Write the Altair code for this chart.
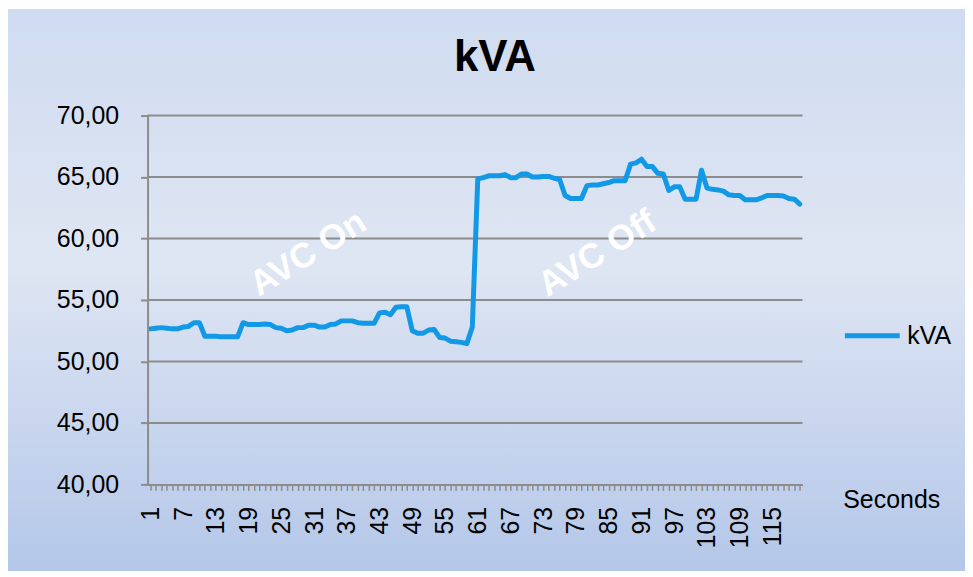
import altair as alt
import pandas as pd

# ---- data ----
seconds = list(range(1, 121))
kva = [
    52.65, 52.70, 52.75, 52.70, 52.65, 52.65, 52.80, 52.85, 53.15, 53.15,
    52.05, 52.05, 52.05, 52.00, 52.00, 52.00, 52.00, 53.15, 53.00, 53.00,
    53.00, 53.05, 53.00, 52.75, 52.70, 52.50, 52.55, 52.75, 52.75, 52.95,
    52.95, 52.80, 52.80, 53.00, 53.05, 53.30, 53.30, 53.30, 53.15, 53.10,
    53.10, 53.10, 53.95, 54.00, 53.80, 54.40, 54.45, 54.45, 52.50, 52.30,
    52.30, 52.55, 52.60, 51.95, 51.90, 51.65, 51.60, 51.55, 51.45, 52.80,
    64.85, 64.95, 65.10, 65.10, 65.10, 65.20, 64.95, 64.95, 65.25, 65.25,
    65.00, 65.00, 65.05, 65.05, 64.90, 64.80, 63.50, 63.25, 63.25, 63.25,
    64.30, 64.35, 64.35, 64.45, 64.55, 64.70, 64.70, 64.70, 66.05, 66.15,
    66.45, 65.85, 65.85, 65.30, 65.25, 63.90, 64.20, 64.20, 63.20, 63.20,
    63.20, 65.55, 64.10, 64.00, 63.95, 63.85, 63.55, 63.50, 63.50, 63.15,
    63.15, 63.15, 63.30, 63.50, 63.50, 63.50, 63.45, 63.25, 63.20, 62.80,
]
series_name = "kVA"
y_ticks = [40, 45, 50, 55, 60, 65, 70]
grid_values = [45, 50, 55, 60, 65, 70]
note_text = ["AVC On", "AVC Off"]
note_x = [29.9, 82.9]
note_y = [58.8, 58.8]

W, H = 657, 370
PAD = {"left": 140, "top": 107, "right": 163, "bottom": 87}
GRAY = "#8C8C8C"
FONT = "Liberation Sans"
LINE_COLOR = "#1198E6"

df = pd.DataFrame({"second": seconds, "kva": kva, "series": [series_name] * len(seconds)})
xscale = alt.Scale(domain=[0.5, 120.5], nice=False, zero=False)
yscale = alt.Scale(domain=[40, 70], nice=False, zero=False)

x_axis = alt.Axis(
    values=seconds,
    labelExpr="(datum.value - 1) % 6 == 0 ? datum.label : ''",
    labelAngle=270, labelOverlap=False, labelFlush=False,
    labelFontSize=25, labelFont=FONT, labelColor="#000", labelPadding=16,
    tickSize=6, tickColor=GRAY, tickWidth=1.5,
    domainColor=GRAY, domainWidth=2, grid=False, zindex=1,
    title="Seconds", titleX=746, titleY=15, titleAlign="center",
    titleBaseline="middle", titleAngle=0, titleFontWeight="normal",
    titleFontSize=25, titleFont=FONT, titleColor="#000",
)
y_axis = alt.Axis(
    values=y_ticks,
    labelExpr="replace(format(datum.value, '.2f'), '.', ',')",
    grid=False, domainColor=GRAY, domainWidth=2,
    tickColor=GRAY, tickWidth=2, tickSize=7,
    labelFontSize=25, labelFont=FONT, labelColor="#000", labelPadding=22,
    title=None, zindex=1,
)

bg = alt.Chart(pd.DataFrame({"k": [0]})).mark_rect(
    fill=alt.Gradient(
        gradient="linear", x1=0, y1=0, x2=0, y2=1,
        stops=[
            alt.GradientStop(offset=0, color="#CFDBF0"),
            alt.GradientStop(offset=0.45, color="#DFE6F3"),
            alt.GradientStop(offset=1, color="#B4C7E9"),
        ],
    )
).encode(
    x=alt.value(-PAD["left"]), x2=alt.value(W + PAD["right"]),
    y=alt.value(-PAD["top"]), y2=alt.value(H + PAD["bottom"]),
)

grid = alt.Chart(pd.DataFrame({"kva": grid_values})).mark_rule(
    color=GRAY, strokeWidth=2
).encode(y=alt.Y("kva:Q", scale=yscale, axis=y_axis))

line = alt.Chart(df).mark_line(
    strokeWidth=5, strokeJoin="round", strokeCap="round"
).encode(
    x=alt.X("second:Q", scale=xscale, axis=x_axis),
    y=alt.Y("kva:Q", scale=yscale, axis=y_axis),
    color=alt.Color(
        "series:N",
        scale=alt.Scale(domain=[series_name], range=[LINE_COLOR]),
        legend=alt.Legend(
            title=None, orient="none", legendX=697, legendY=191,
            symbolType="stroke", symbolSize=3025, symbolStrokeWidth=5,
            labelFontSize=25, labelFont=FONT, labelColor="#000",
            labelOffset=5, padding=0, zindex=1,
        ),
    ),
)

notes = alt.Chart(pd.DataFrame({"t": note_text, "second": note_x, "kva": note_y})).mark_text(
    font=FONT, fontSize=35, fontWeight="bold", color="#FFFFFF",
    angle=328, align="center", baseline="middle",
).encode(
    x=alt.X("second:Q", scale=xscale, axis=x_axis),
    y=alt.Y("kva:Q", scale=yscale, axis=y_axis),
    text="t:N",
)

chart = alt.layer(bg, grid, line, notes).properties(
    width=W, height=H,
    autosize=alt.AutoSizeParams(type="none"),
    padding=PAD,
    title=alt.TitleParams(
        "kVA", fontSize=44, font=FONT, fontWeight="bold", color="#000",
        anchor="middle", dx=20, offset=-71, zindex=1,
    ),
).configure(background="#FFFFFF").configure_view(stroke=None)

chart.save("out.html", embed_options={"renderer": "svg", "actions": False})
